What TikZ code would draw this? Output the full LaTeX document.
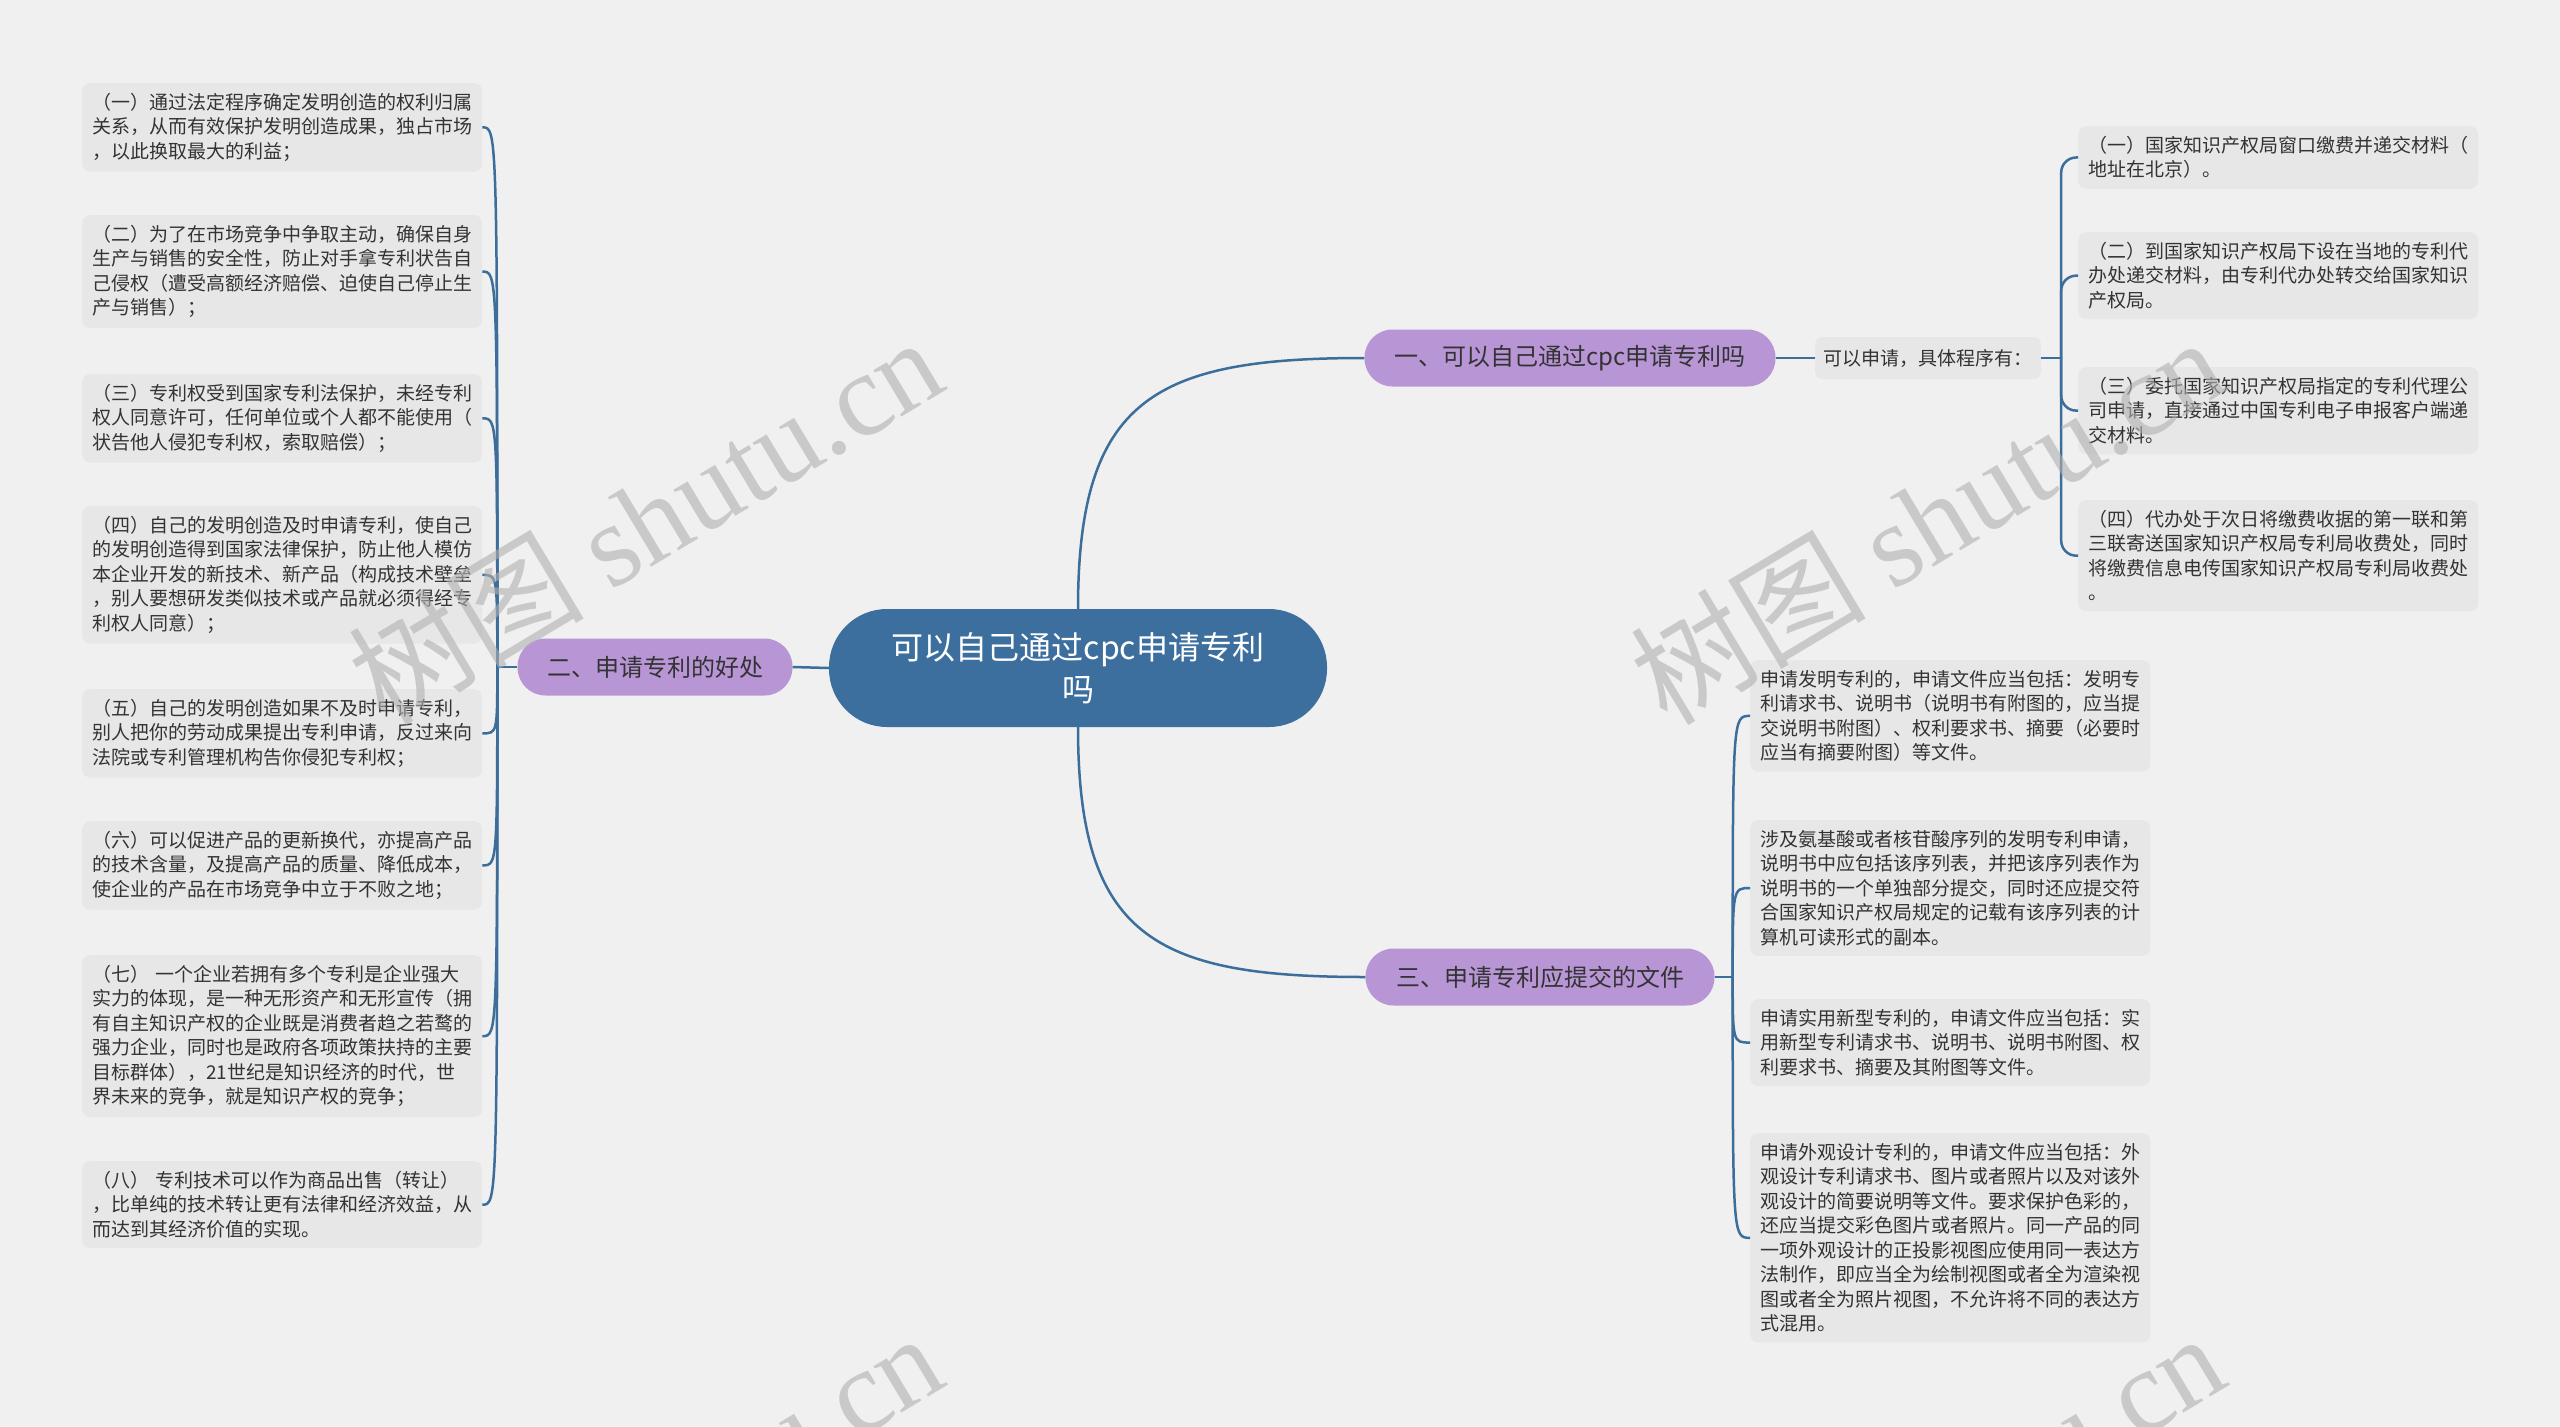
\documentclass[tikz,border=0pt]{standalone}
\usepackage{fontspec}
\setmainfont{Noto Sans CJK SC}
\newfontfamily\wmlatin{Liberation Serif}
\definecolor{bgcolor}{HTML}{F0F0F0}
\definecolor{leafgray}{HTML}{E7E7E7}
\definecolor{textgray}{HTML}{333333}
\definecolor{rootblue}{HTML}{3D6F9E}
\definecolor{linkblue}{HTML}{3B6E9B}
\definecolor{branchpurple}{HTML}{B896D6}
\definecolor{wmgray}{HTML}{B0B0B0}
\tikzset{
	link/.style={draw=linkblue, line width=2.5pt},
	leaf/.style={fill=leafgray, rounded corners=8pt, text width=380pt, inner xsep=10pt, inner ysep=10pt,
		align=left, anchor=north west, text=textgray, font=\fontsize{19}{24.5}\selectfont},
	branch/.style={fill=branchpurple, rounded corners=28pt, minimum height=57pt, text=textgray,
		font=\fontsize{24}{28}\selectfont},
	watermark/.style={rotate=31, text=wmgray, opacity=0.6, font=\fontsize{118}{118}\selectfont}
}
\begin{document}
\begin{tikzpicture}[x=1pt, y=-1pt]
	\fill[bgcolor] (0,0) rectangle (2560,1427);
	\useasboundingbox (0,0) rectangle (2560,1427);

	\node[fill=rootblue, rounded corners=58pt, minimum width=498pt, minimum height=118pt, align=center,
		text=white, font=\fontsize{32}{42}\selectfont] (root) at (1078,668) {可以自己通过cpc申请专利\\吗};

	\node[branch, minimum width=411pt] (b1) at (1570,358) {一、可以自己通过cpc申请专利吗};
	\node[branch, minimum width=275pt] (b2) at (655,667) {二、申请专利的好处};
	\node[branch, minimum width=349pt] (b3) at (1540,977) {三、申请专利应提交的文件};

	\node[fill=leafgray, rounded corners=8pt, minimum width=226pt, minimum height=42pt, text=textgray,
		font=\fontsize{19}{24.5}\selectfont] (sub) at (1928,358) {可以申请，具体程序有：};

	\node[leaf] (r1) at (2078,126) {（一）国家知识产权局窗口缴费并递交材料（\\地址在北京）。};
	\node[leaf] (r2) at (2078,232) {（二）到国家知识产权局下设在当地的专利代\\办处递交材料，由专利代办处转交给国家知识\\产权局。};
	\node[leaf] (r3) at (2078,367) {（三）委托国家知识产权局指定的专利代理公\\司申请，直接通过中国专利电子申报客户端递\\交材料。};
	\node[leaf] (r4) at (2078,500) {（四）代办处于次日将缴费收据的第一联和第\\三联寄送国家知识产权局专利局收费处，同时\\将缴费信息电传国家知识产权局专利局收费处\\。};

	\node[leaf] (l1) at (82,83) {（一）通过法定程序确定发明创造的权利归属\\关系，从而有效保护发明创造成果，独占市场\\，以此换取最大的利益；};
	\node[leaf] (l2) at (82,215) {（二）为了在市场竞争中争取主动，确保自身\\生产与销售的安全性，防止对手拿专利状告自\\己侵权（遭受高额经济赔偿、迫使自己停止生\\产与销售）；};
	\node[leaf] (l3) at (82,374) {（三）专利权受到国家专利法保护，未经专利\\权人同意许可，任何单位或个人都不能使用（\\状告他人侵犯专利权，索取赔偿）；};
	\node[leaf] (l4) at (82,506) {（四）自己的发明创造及时申请专利，使自己\\的发明创造得到国家法律保护，防止他人模仿\\本企业开发的新技术、新产品（构成技术壁垒\\，别人要想研发类似技术或产品就必须得经专\\利权人同意）；};
	\node[leaf] (l5) at (82,689) {（五）自己的发明创造如果不及时申请专利，\\别人把你的劳动成果提出专利申请，反过来向\\法院或专利管理机构告你侵犯专利权；};
	\node[leaf] (l6) at (82,821) {（六）可以促进产品的更新换代，亦提高产品\\的技术含量，及提高产品的质量、降低成本，\\使企业的产品在市场竞争中立于不败之地；};
	\node[leaf] (l7) at (82,955) {（七） 一个企业若拥有多个专利是企业强大\\实力的体现，是一种无形资产和无形宣传（拥\\有自主知识产权的企业既是消费者趋之若鹜的\\强力企业，同时也是政府各项政策扶持的主要\\目标群体），21世纪是知识经济的时代，世\\界未来的竞争，就是知识产权的竞争；};
	\node[leaf] (l8) at (82,1161) {（八） 专利技术可以作为商品出售（转让）\\，比单纯的技术转让更有法律和经济效益，从\\而达到其经济价值的实现。};

	\node[leaf] (d1) at (1750,660) {申请发明专利的，申请文件应当包括：发明专\\利请求书、说明书（说明书有附图的，应当提\\交说明书附图）、权利要求书、摘要（必要时\\应当有摘要附图）等文件。};
	\node[leaf] (d2) at (1750,820) {涉及氨基酸或者核苷酸序列的发明专利申请，\\说明书中应包括该序列表，并把该序列表作为\\说明书的一个单独部分提交，同时还应提交符\\合国家知识产权局规定的记载有该序列表的计\\算机可读形式的副本。};
	\node[leaf] (d3) at (1750,999) {申请实用新型专利的，申请文件应当包括：实\\用新型专利请求书、说明书、说明书附图、权\\利要求书、摘要及其附图等文件。};
	\node[leaf] (d4) at (1750,1133) {申请外观设计专利的，申请文件应当包括：外\\观设计专利请求书、图片或者照片以及对该外\\观设计的简要说明等文件。要求保护色彩的，\\还应当提交彩色图片或者照片。同一产品的同\\一项外观设计的正投影视图应使用同一表达方\\法制作，即应当全为绘制视图或者全为渲染视\\图或者全为照片视图，不允许将不同的表达方\\式混用。};

	\draw[link] (root.west) -- (b2.east);
	\draw[link] (root.north) .. controls +(0,-210) and +(-210,0) .. (b1.west);
	\draw[link] (root.south) .. controls +(0,210) and +(-210,0) .. (b3.west);

	\draw[link] (b1.east) -- (sub.west);
	\path (sub.east) ++(20,0) coordinate (j1);
	\draw[link] (sub.east) -- (j1);
	\foreach \i in {1,...,4}
		\draw[link, rounded corners=15pt] (j1) |- (r\i.west);

	\path (b2.west) ++(-20,0) coordinate (j2);
	\draw[link] (b2.west) -- (j2);
	\foreach \i in {1,...,8}
		\draw[link] (j2) .. controls (j2 |- l\i.east) .. (l\i.east);

	\path (b3.east) ++(18,0) coordinate (j3);
	\draw[link] (b3.east) -- (j3);
	\foreach \i in {1,...,4}
		\draw[link] (j3) .. controls (j3 |- d\i.west) .. (d\i.west);

	\begin{scope}
		\clip (0,0) rectangle (2560,1427);
		\foreach \wx/\wy in {645/519, 1927/519, 645/1515, 1927/1515}
			\node[watermark] at (\wx,\wy) {树图 {\wmlatin shutu.cn}};
	\end{scope}
\end{tikzpicture}
\end{document}
